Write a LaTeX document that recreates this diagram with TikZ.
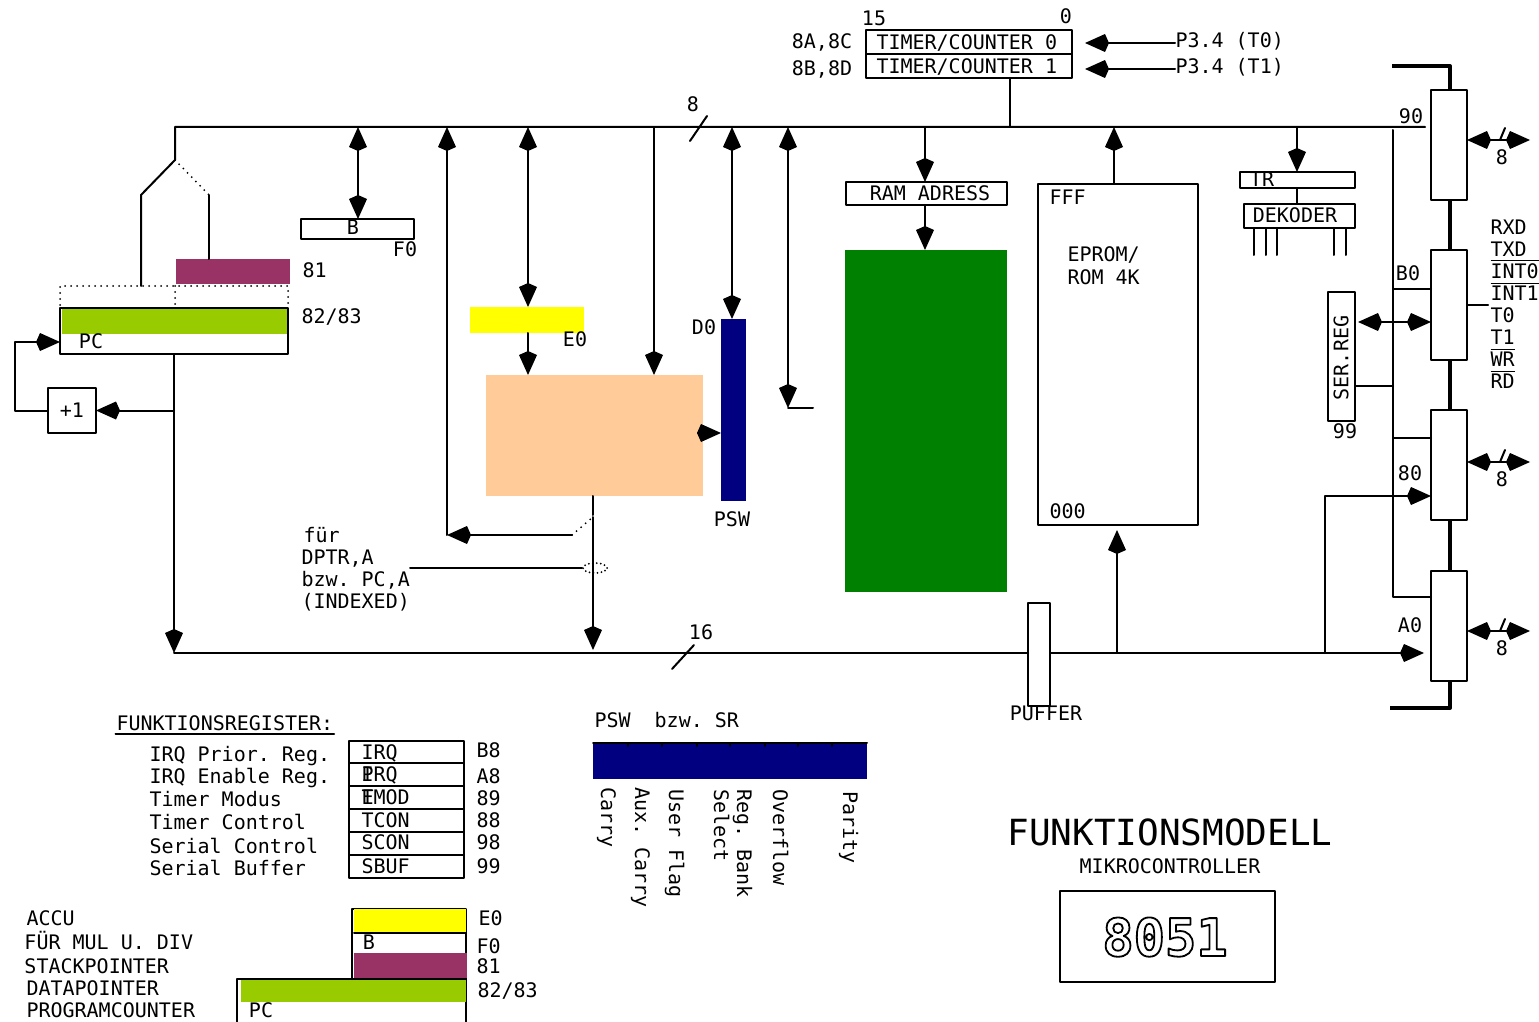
\documentclass[tikz,border=0pt]{standalone}
\usepackage{fontspec}
\setmainfont{DejaVu Sans Mono}
\frenchspacing
\usetikzlibrary{arrows.meta,shapes.geometric}
\definecolor{stackcol}{HTML}{993366}
\definecolor{datacol}{HTML}{99CC00}
\definecolor{accucol}{HTML}{FFFF00}
\definecolor{alucol}{HTML}{FFCC99}
\definecolor{pswcol}{HTML}{000080}
\definecolor{ramcol}{HTML}{008000}
\newcommand{\outlinetxt}[1]{\special{pdf:code q 1 Tr 0.9 w}#1\special{pdf:code Q}}
\newcommand{\ovl}[1]{$\overline{\mbox{#1}}$}

\begin{document}
\frenchspacing
\begin{tikzpicture}[line width=1pt, line cap=round, line join=round, >={Kite[length=12pt,width=9pt,inset=2pt]}, x=0.5pt, y=-0.5pt,
  lbl/.style={inner sep=0pt, anchor=west, xshift=-0.75pt, text height=7.3pt, text depth=0pt},
  clbl/.style={inner sep=0pt, anchor=center, text height=7.3pt, text depth=0pt},
  box/.style={draw, fill=white, inner sep=0pt, outer sep=0pt},
  reg/.style={inner sep=0pt, outer sep=0pt},
  dotline/.style={dash pattern=on 0pt off 3pt},
  portbus/.style={line width=2pt, line cap=butt}]
  \useasboundingbox (0,0) rectangle (1539,1022);

  \coordinate (busLeft) at (175,127);
  \coordinate (busEnd) at (1425,127);
  \coordinate (splitTop) at (175,160);
  \coordinate (splitL) at (141,195);
  \coordinate (splitR) at (209,195);
  \coordinate (dotL) at (141,286);
  \coordinate (busB) at (358,127);
  \coordinate (busDptr) at (447,127);
  \coordinate (busA) at (528,127);
  \coordinate (busAlu) at (654,127);
  \coordinate (busPsw) at (732,127);
  \coordinate (busStub) at (788,127);
  \coordinate (stubEnd) at (788,408);
  \coordinate (stubTail) at (813,408);
  \coordinate (busRam) at (925,127);
  \coordinate (busTimer) at (1010,127);
  \coordinate (busRom) at (1114,127);
  \coordinate (busTr) at (1297,127);
  \coordinate (bus16Left) at (174,653);
  \coordinate (bus16Rom) at (1117,653);
  \coordinate (bus16Port) at (1325,653);
  \coordinate (bus16End) at (1424,653);
  \coordinate (plusTap) at (174,410.5);
  \coordinate (loopL) at (15,410.5);
  \coordinate (pcIn) at (60,342);
  \coordinate (aluOut) at (703,433);
  \coordinate (dptrTurn) at (447,535);
  \coordinate (swL) at (572,535);
  \coordinate (swTop) at (593,517);
  \coordinate (swStub) at (593,515);
  \coordinate (bus16Alu) at (593,650);
  \coordinate (selTail) at (410,568);
  \coordinate (t0Tail) at (1175,43);
  \coordinate (t0Tip) at (1085,43);
  \coordinate (t1Tail) at (1175,69);
  \coordinate (t1Tip) at (1085,69);
  \coordinate (romTip) at (1117,530);
  \coordinate (sfrTop) at (1393,130);
  \coordinate (sfrBot) at (1393,597);
  \coordinate (sfrB0) at (1393,289);
  \coordinate (sfr80) at (1393,438);
  \coordinate (sfrSer) at (1393,386);
  \coordinate (serTip) at (1358,322);
  \coordinate (p2In) at (1325,496);
  \coordinate (topBusEnd) at (1392,66);
  \coordinate (topBusTurn) at (1450,66);
  \coordinate (botBusEnd) at (1390,708);
  \coordinate (botBusTurn) at (1450,708);
  \coordinate (p0Out) at (1530,140);
  \coordinate (p2Out) at (1530,462);
  \coordinate (p1Out) at (1530,631);

  \draw[dotline] (60,305) -- (60,286) -- (288,286) -- (288,305);
  \draw[dotline] (175,286) -- (175,305);

  \node[box, minimum width=56.5pt, minimum height=10pt] (regB) at (357.5,229) {};
  \node[reg, fill=stackcol, minimum width=57pt, minimum height=12.5pt] (regSP) at (233,271.5) {};
  \node[box, minimum width=114pt, minimum height=23pt] (regPC) at (174,331) {};
  \node[reg, fill=datacol, minimum width=112.5pt, minimum height=12.5pt] (regDP) at (174.5,321.5) {};
  \node[box, minimum width=24pt, minimum height=22.5pt] (regPlus) at (72,410.5) {+1};
  \node[reg, fill=accucol, minimum width=57pt, minimum height=13pt] (regA) at (527,320) {};
  \node[reg, fill=alucol, minimum width=108.5pt, minimum height=60.5pt] (alu) at (594.5,435.5) {};
  \node[reg, fill=pswcol, minimum width=12.5pt, minimum height=91pt] (regPSW) at (733.5,410) {};
  \node[box, minimum width=80.5pt, minimum height=11.5pt] (regRamAdr) at (926.5,193.5) {};
  \node[reg, fill=ramcol, minimum width=81pt, minimum height=171pt] (ram) at (926,421) {};
  \node[box, minimum width=80pt, minimum height=170.5pt] (rom) at (1118,354.5) {};
  \node[box, minimum width=11pt, minimum height=51.5pt] (puffer) at (1039,654.5) {};
  \node[box, minimum width=103pt, minimum height=12pt] (timerA) at (969,42) {};
  \node[box, minimum width=103pt, minimum height=12pt] (timerB) at (969,66) {};
  \node[box, minimum width=57.5pt, minimum height=8pt] (regTR) at (1297.5,180) {};
  \node[box, minimum width=55.5pt, minimum height=12pt] (dekoder) at (1299.5,216) {};
  \node[box, minimum width=13.5pt, minimum height=64.5pt] (serReg) at (1341.5,356.5) {};
  \node[box, minimum width=18pt, minimum height=55pt] (portP0) at (1449,145) {};
  \node[box, minimum width=18pt, minimum height=55pt] (portP3) at (1449,305) {};
  \node[box, minimum width=18pt, minimum height=55pt] (portP2) at (1449,465) {};
  \node[box, minimum width=18pt, minimum height=55pt] (portP1) at (1449,626) {};
  \node[draw, ellipse, dash pattern=on 0pt off 2pt, inner sep=0pt, minimum width=12pt, minimum height=5pt] (addrSel) at (595,568) {};

  \draw (splitR) -- (splitR |- regSP.north);
  \draw (dotL) -- (splitL) -- (splitTop) -- (busLeft) -- (busEnd);
  \draw[dotline] (splitTop) -- (splitR);
  \draw (690,141) -- (707,116);
  \draw[<->] (busB) -- (busB |- regB.north);
  \draw[->] (dptrTurn) -- (busDptr);
  \draw[->] (swL) -- (dptrTurn);
  \draw[dotline] (swL) -- (swTop);
  \draw (alu.south -| swStub) -- (swStub);
  \draw[->] (swTop) -- (bus16Alu);
  \draw (selTail) -- (addrSel.west);
  \draw[<->] (busA) -- (busA |- regA.north);
  \draw[->] (busA |- regA.south) -- (busA |- alu.north);
  \draw[->] (busAlu) -- (busAlu |- alu.north);
  \draw[<->] (busPsw) -- (busPsw |- regPSW.north);
  \draw[->] (aluOut) -- (aluOut -| regPSW.west);
  \draw[<->] (busStub) -- (stubEnd);
  \draw (stubEnd) -- (stubTail);
  \draw[->] (busRam) -- (busRam |- regRamAdr.north);
  \draw[->] (busRam |- regRamAdr.south) -- (busRam |- ram.north);
  \draw (busTimer |- timerB.south) -- (busTimer);
  \draw[->] (t0Tail) -- (t0Tip);
  \draw[->] (t1Tail) -- (t1Tip);
  \draw[->] (busRom |- rom.north) -- (busRom);
  \draw[->] (bus16Rom) -- (romTip);
  \draw[->] (busTr) -- (busTr |- regTR.north);
  \draw (busTr |- regTR.south) -- (busTr |- dekoder.north);
  \draw (1254,228) -- (1254,255);
  \draw (1266,228) -- (1266,255);
  \draw (1277,228) -- (1277,255);
  \draw (1334,228) -- (1334,255);
  \draw (1346,228) -- (1346,255);

  \draw[->] (regPC.south) -- (bus16Left);
  \draw[->] (plusTap) -- (regPlus.east);
  \draw[->] (regPlus.west) -- (loopL) -- (loopL |- pcIn) -- (pcIn);
  \draw (bus16Left) -- (puffer.west |- bus16Left);
  \draw[->] (puffer.east |- bus16End) -- (bus16End);
  \draw (672,669) -- (694,645);
  \draw[->] (bus16Port) -- (p2In) -- (portP2.west |- p2In);

  \draw (sfrTop) -- (sfrBot) -- (portP1.west |- sfrBot);
  \draw (sfrB0) -- (portP3.west |- sfrB0);
  \draw (sfr80) -- (portP2.west |- sfr80);
  \draw (sfrSer) -- (serReg.east |- sfrSer);
  \draw[<->] (serTip) -- (portP3.west |- serTip);
  \draw (portP3.east) -- ++(21,0);
  \draw[portbus] (topBusEnd) -- (topBusTurn) -- (portP0.north -| topBusTurn);
  \draw[portbus] (portP0.south -| topBusTurn) -- (portP3.north -| topBusTurn);
  \draw[portbus] (portP3.south -| topBusTurn) -- (portP2.north -| topBusTurn);
  \draw[portbus] (portP2.south -| topBusTurn) -- (portP1.north -| topBusTurn);
  \draw[portbus] (portP1.south -| botBusTurn) -- (botBusTurn) -- (botBusEnd);
  \draw[<->] (portP0.east |- p0Out) -- (p0Out);
  \draw[<->] (portP2.east |- p2Out) -- (p2Out);
  \draw[<->] (portP1.east |- p1Out) -- (p1Out);
  \draw (1500,140) -- (1505,128);
  \draw (1500,462) -- (1505,450);
  \draw (1500,631) -- (1505,619);

  \node[clbl] (lblEightBus) at (693,104) {8};
  \node[clbl] (lblSixteen) at (701,632) {16};
  \node[clbl] (lblB) at (353,227) {B};
  \node[clbl] (lblFzero) at (405,249) {F0};
  \node[lbl] (lblSP) at (303,270) {81};
  \node[lbl] (lblDP) at (302,316) {82/83};
  \node[clbl] (lblPC) at (91,341) {PC};
  \node[clbl] (lblAccu) at (575,339) {E0};
  \node[clbl] (lblDnull) at (704,327) {D0};
  \node[clbl] (lblPSW) at (732,519) {PSW};
  \node[lbl] (lblFuer) at (304,535) {für};
  \node[lbl] (lblDptr) at (302,557) {DPTR,A};
  \node[lbl] (lblBzw) at (302,579) {bzw. PC,A};
  \node[lbl] (lblIdx) at (302,601) {(INDEXED)};
  \node[clbl] (lblBitHi) at (874,18) {15};
  \node[clbl] (lblBitLo) at (1066,16) {0};
  \node[clbl] (lblTimerA) at (822,41) {8A,8C};
  \node[clbl] (lblTimerB) at (822,68) {8B,8D};
  \node[lbl] (txtTimerA) at (877,42) {TIMER/COUNTER 0};
  \node[lbl] (txtTimerB) at (877,66) {TIMER/COUNTER 1};
  \node[lbl] (lblTzero) at (1176,40) {P3.4 (T0)};
  \node[lbl] (lblTone) at (1176,66) {P3.4 (T1)};
  \node[clbl] (txtRamAdr) at (930,193) {RAM ADRESS};
  \node[lbl] (lblFFF) at (1050,197) {FFF};
  \node[lbl] (lblEprom) at (1068,254) {EPROM/};
  \node[lbl] (lblRom) at (1068,277) {ROM 4K};
  \node[lbl] (lblNull) at (1050,511) {000};
  \node[clbl] (lblPuffer) at (1046,713) {PUFFER};
  \node[clbl] (txtTR) at (1262,179) {TR};
  \node[clbl] (txtDekoder) at (1295,215) {DEKODER};
  \node[clbl, rotate=90] (txtSer) at (1341,358) {SER.REG};
  \node[clbl] (lblSer) at (1345,431) {99};
  \node[clbl] (lblPzero) at (1411,116) {90};
  \node[clbl] (lblPthree) at (1408,273) {B0};
  \node[clbl] (lblPtwo) at (1410,473) {80};
  \node[clbl] (lblPone) at (1410,625) {A0};
  \node[clbl] (lblEightA) at (1502,157) {8};
  \node[clbl] (lblEightB) at (1502,479) {8};
  \node[clbl] (lblEightC) at (1502,648) {8};
  \node[lbl] (pinRXD) at (1491,227) {RXD};
  \node[lbl] (pinTXD) at (1491,249) {TXD};
  \node[lbl] (pinINTa) at (1491,271) {\ovl{INT0}};
  \node[lbl] (pinINTb) at (1491,293) {\ovl{INT1}};
  \node[lbl] (pinTa) at (1491,315) {T0};
  \node[lbl] (pinTb) at (1491,337) {T1};
  \node[lbl] (pinWR) at (1491,359) {\ovl{WR}};
  \node[lbl] (pinRD) at (1491,381) {\ovl{RD}};

  \node[lbl] (funkTitle) at (117,723) {FUNKTIONSREGISTER:};
  \draw ([yshift=-1.5pt]funkTitle.south west) -- ([yshift=-1.5pt]funkTitle.south east);
  \node[lbl] (nameIP) at (150,754) {IRQ Prior. Reg.};
  \node[lbl] (nameIE) at (150,776) {IRQ Enable Reg.};
  \node[lbl] (nameTM) at (150,799) {Timer Modus};
  \node[lbl] (nameTC) at (150,822) {Timer Control};
  \node[lbl] (nameSC) at (150,846) {Serial Control};
  \node[lbl] (nameSB) at (150,868) {Serial Buffer};
  \node[box, minimum width=57.5pt, minimum height=11pt] (funkA) at (406.5,752) {};
  \node[box, minimum width=57.5pt, minimum height=11.5pt] (funkB) at (406.5,774.5) {};
  \node[box, minimum width=57.5pt, minimum height=11.5pt] (funkC) at (406.5,797.5) {};
  \node[box, minimum width=57.5pt, minimum height=11.5pt] (funkD) at (406.5,820.5) {};
  \node[box, minimum width=57.5pt, minimum height=11.5pt] (funkE) at (406.5,843.5) {};
  \node[box, minimum width=57.5pt, minimum height=11.5pt] (funkF) at (406.5,866.5) {};
  \node[lbl] (txtIP) at (362,752) {IRQ};
  \node[lbl] (txtIE) at (362,774) {\rlap{I}PRQ};
  \node[lbl] (txtTM) at (362,797) {\rlap{E}TMOD};
  \node[lbl] (txtTC) at (362,820) {TCON};
  \node[lbl] (txtSC) at (362,842) {SCON};
  \node[lbl] (txtSB) at (362,866) {SBUF};
  \node[lbl] (addrIP) at (477,750) {B8};
  \node[lbl] (addrIE) at (477,776) {A8};
  \node[lbl] (addrTM) at (477,798) {89};
  \node[lbl] (addrTC) at (477,820) {88};
  \node[lbl] (addrSC) at (477,842) {98};
  \node[lbl] (addrSB) at (477,866) {99};

  \node[lbl] (nameAccu) at (27,918) {ACCU};
  \node[lbl] (nameMul) at (25,942) {FÜR MUL U. DIV};
  \node[lbl] (nameStack) at (25,966) {STACKPOINTER};
  \node[lbl] (nameData) at (27,988) {DATAPOINTER};
  \node[lbl] (nameProg) at (27,1010) {PROGRAMCOUNTER};
  \draw (237,1023) -- (237,979) -- (466,979) -- (466,1023);
  \node[box, minimum width=57pt, minimum height=35pt] (lgFrame) at (409,944) {};
  \node[reg, fill=accucol, minimum width=56pt, minimum height=12pt] (lgAccu) at (410,921) {};
  \node[reg, fill=stackcol, minimum width=56.5pt, minimum height=12.5pt] (lgStack) at (410.5,965.5) {};
  \node[reg, fill=datacol, minimum width=112.5pt, minimum height=11pt] (lgData) at (353.5,991) {};
  \draw (lgAccu.south west) -- (lgAccu.south east);
  \node[clbl] (txtLgB) at (369,942) {B};
  \node[clbl] (txtLgPC) at (261,1010) {PC};
  \node[lbl] (addrAccu) at (479,918) {E0};
  \node[lbl] (addrB) at (477,946) {F0};
  \node[lbl] (addrStack) at (477,966) {81};
  \node[lbl] (addrData) at (478,990) {82/83};

  \node[lbl] (pswTitle) at (595,720) {PSW~~bzw.~SR};
  \node[reg, fill=pswcol, minimum width=137pt, minimum height=18pt] (barPSW) at (730,761) {};
  \draw (barPSW.north west) -- (barPSW.north east);
  \draw (628,743) -- (628,746);
  \draw (662,743) -- (662,746);
  \draw (697,743) -- (697,746);
  \draw (730,743) -- (730,746);
  \draw (765,743) -- (765,746);
  \draw (798,743) -- (798,746);
  \draw (832,743) -- (832,746);
  \node[lbl, rotate=-90] (bitCarry) at (610,786) {Carry};
  \node[lbl, rotate=-90] (bitAux) at (644,786) {Aux. Carry};
  \node[lbl, rotate=-90] (bitUser) at (678,788) {User Flag};
  \node[lbl, rotate=-90] (bitSelect) at (723,788) {Select};
  \node[lbl, rotate=-90] (bitBank) at (746,788) {Reg. Bank};
  \node[lbl, rotate=-90] (bitOver) at (782,788) {Overflow};
  \node[lbl, rotate=-90] (bitParity) at (852,790) {Parity};

  \node[clbl, font=\fontsize{18}{20}\selectfont, text height=13pt] (mainTitle) at (1170,832) {FUNKTIONSMODELL};
  \node[clbl] (subTitle) at (1170,866) {MIKROCONTROLLER};
  \node[box, minimum width=107.5pt, minimum height=45.5pt] (chipBox) at (1167.5,936.5) {};
  \node[clbl, font=\fontsize{26}{28}\selectfont\bfseries, text height=19pt] (chipName) at (1165,937) {\outlinetxt{8051}};
\end{tikzpicture}
\end{document}
